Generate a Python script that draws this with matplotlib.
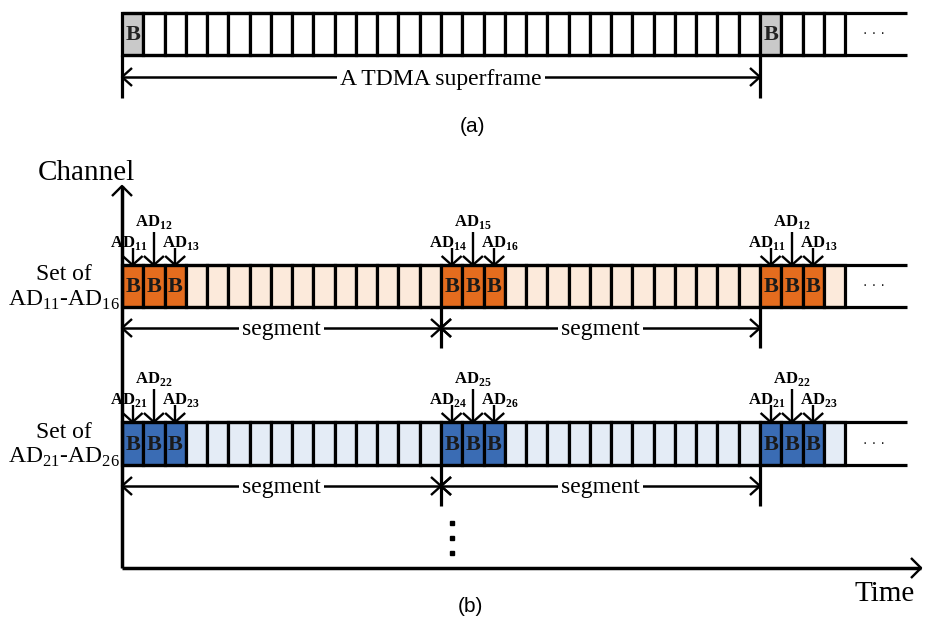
import matplotlib.pyplot as plt
from matplotlib.patches import Rectangle

plt.rcParams['mathtext.fontset'] = 'custom'
plt.rcParams['mathtext.rm'] = 'Liberation Serif'
plt.rcParams['mathtext.bf'] = 'Liberation Serif:bold'

# slot layout
superframe_slots = 30
segment_slots = 15
drawn_slots = 34
beacon_a = [0, 30]
beacon_groups_b = [0, 15, 30]
group_len = 3

row_names = ["Set of\n$\\mathrm{AD}_{11}$-$\\mathrm{AD}_{16}$",
             "Set of\n$\\mathrm{AD}_{21}$-$\\mathrm{AD}_{26}$"]
row_labels = [
    [["11", "12", "13"], ["14", "15", "16"], ["11", "12", "13"]],
    [["21", "22", "23"], ["24", "25", "26"], ["21", "22", "23"]],
]
row_dark = ["#E46C1E", "#3A6CB4"]
row_light = ["#FCEADB", "#E4ECF6"]
gray = "#C9C9C9"

# geometry in pixels
X0 = 122
X_END = 907
W = (760 - X0) / superframe_slots
LW = 2.3
SERIF = "Liberation Serif"

fig = plt.figure(figsize=(9.28, 6.23), dpi=100)
ax = fig.add_axes([0, 0, 1, 1])
ax.set_xlim(0, 928)
ax.set_ylim(623, 0)
ax.axis("off")


def line(xs, ys, lw=LW):
    ax.plot(xs, ys, color="black", lw=lw, solid_capstyle="butt")


def head(x, y, d, s=10, hw=9):
    # open V arrowhead, tip at (x, y)
    if d == "left":
        line([x + s, x, x + s], [y - hw, y, y + hw], lw=1.7)
    elif d == "right":
        line([x - s, x, x - s], [y - hw, y, y + hw], lw=1.7)
    elif d == "up":
        line([x - hw, x, x + hw], [y + s, y, y + s], lw=1.7)
    elif d == "down":
        line([x - hw, x, x + hw], [y - s, y, y - s], lw=1.7)


def slot_row(y0, y1, colors):
    for i, c in enumerate(colors):
        ax.add_patch(Rectangle((X0 + i * W, y0), W, y1 - y0, facecolor=c,
                               edgecolor="black", lw=LW))
    line([X0, X_END], [y0, y0])
    line([X0, X_END], [y1, y1])
    ax.text(874, (y0 + y1) / 2 - 4, ". . .", ha="center", va="center",
            fontsize=10, family="DejaVu Sans", color="#222222")


def span(xa, xb, y, text, heads=("left", "right")):
    line([xa, xb], [y, y], lw=1.8)
    head(xa, y, heads[0])
    head(xb, y, heads[1])
    ax.text((xa + xb) / 2, y + 2, text, ha="center", va="center",
            fontsize=17, family=SERIF,
            bbox=dict(facecolor="white", edgecolor="none", pad=2))


# ---- (a) TDMA superframe ----
ya0, ya1 = 13, 55
colors = ["white"] * drawn_slots
for b in beacon_a:
    colors[b] = gray
slot_row(ya0, ya1, colors)
for b in beacon_a:
    ax.text(X0 + (b + 0.5) * W, (ya0 + ya1) / 2 + 1, "B", ha="center",
            va="center", fontsize=16, fontweight="bold", family=SERIF,
            color="#222222")
xs_end = X0 + superframe_slots * W
line([X0, X0], [ya1, 98])
line([xs_end, xs_end], [ya1, 98])
span(X0, xs_end, 77, "A TDMA superframe")
ax.text(473, 126, "(a)", ha="center", va="center", fontsize=15,
        family="Liberation Sans")

# ---- (b) axes ----
Y_AX = 568
line([X0, X0], [Y_AX, 186], lw=2.5)
head(X0, 186, "up", s=10, hw=10)
line([X0, 921], [Y_AX, Y_AX], lw=2.5)
head(921, Y_AX, "right", s=10, hw=10)
ax.text(86, 173, "Channel", ha="center", va="center", fontsize=21,
        family=SERIF)
ax.text(885, 594, "Time", ha="center", va="center", fontsize=21,
        family=SERIF)
ax.text(470, 606, "(b)", ha="center", va="center", fontsize=15,
        family="Liberation Sans")
ax.plot([452, 452, 452], [523, 538, 553], "s", color="black", ms=3.5)

rows_y = [(265, 307), (422, 465)]
for r, (y0, y1) in enumerate(rows_y):
    colors = [row_light[r]] * drawn_slots
    for g in beacon_groups_b:
        for k in range(group_len):
            colors[g + k] = row_dark[r]
    slot_row(y0, y1, colors)
    ax.text(64, (y0 + y1) / 2 + 2, row_names[r], ha="center", va="center",
            fontsize=17, family=SERIF, linespacing=1.2)
    for gi, g in enumerate(beacon_groups_b):
        for k in range(group_len):
            cx = X0 + (g + k + 0.5) * W
            ax.text(cx, (y0 + y1) / 2 + 1, "B", ha="center", va="center",
                    fontsize=16, fontweight="bold", family=SERIF,
                    color="#1a1a1a")
            sub = row_labels[r][gi][k]
            if k == 1:
                ty, top = y0 - 43, y0 - 33
                tx = cx
            else:
                ty, top = y0 - 22, y0 - 17
                tx = cx - 4 if k == 0 else cx + 6
            line([cx, cx], [top, y0], lw=1.7)
            head(cx, y0, "down", s=9, hw=10)
            ax.text(tx, ty, "$\\mathbf{AD}_{\\mathbf{%s}}$" % sub,
                    ha="center", va="center", fontsize=12)
    # segments
    ys = y1 + 21
    xm = X0 + segment_slots * W
    xe = X0 + 2 * segment_slots * W
    line([xm, xm], [y1, y1 + 41])
    line([xe, xe], [y1, y1 + 41])
    span(X0, xm, ys, "segment")
    span(xm, xe, ys, "segment")
    head(xm, ys, "left")

fig.savefig("out.png", dpi=100)
